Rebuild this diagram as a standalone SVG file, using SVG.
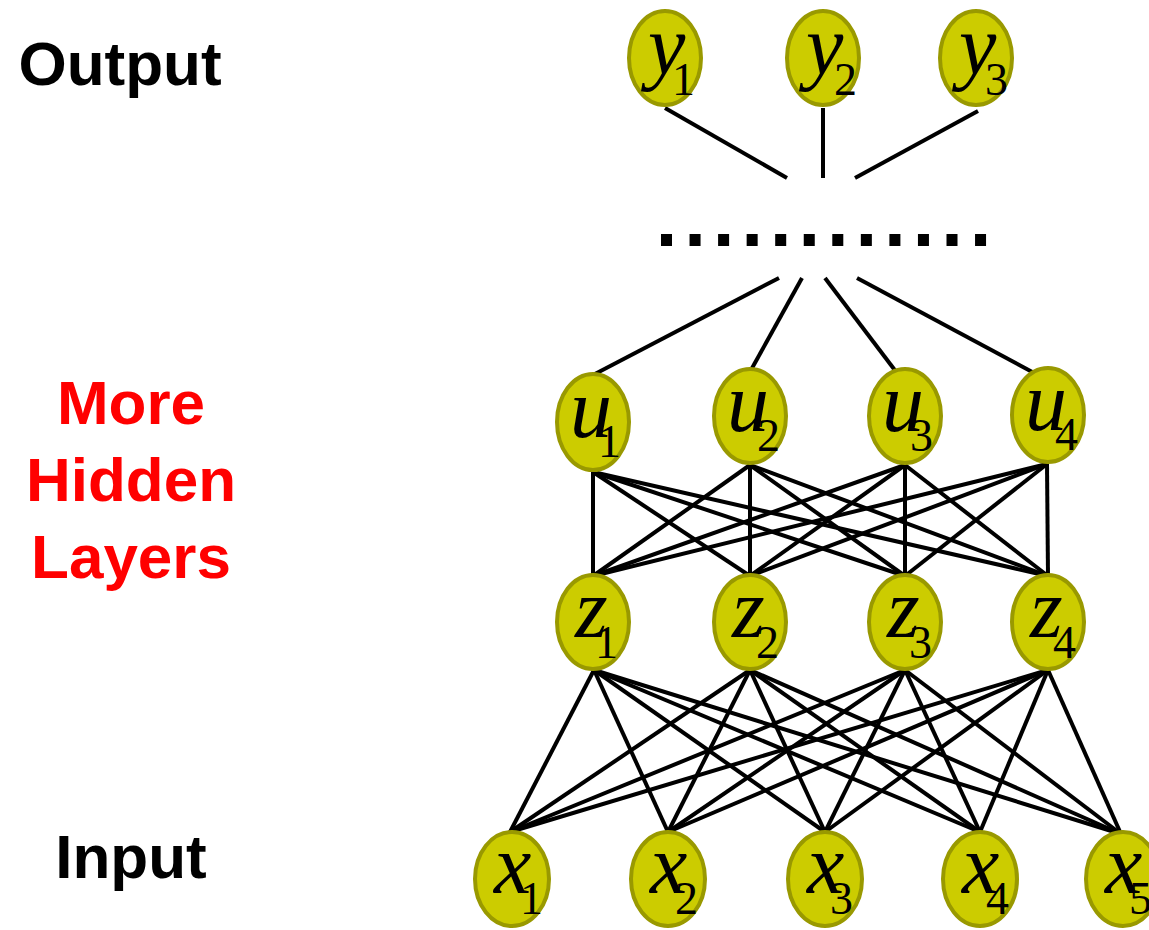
<svg xmlns="http://www.w3.org/2000/svg" width="1149" height="930" viewBox="0 0 1149 930">
  <style>
    .node ellipse { fill: #CCCC00; stroke: #999900; stroke-width: 4; }
    .v { font-family: "Liberation Serif", "Times New Roman", serif; font-style: italic; font-size: 84px; fill: #000; }
    .s { font-family: "Liberation Serif", "Times New Roman", serif; font-size: 46px; fill: #000; }
    .edges line { stroke: #000; stroke-width: 4; }
    .edges line.dots { stroke-width: 12; stroke-dasharray: 11 17.55; }
    .lbl { font-family: "Liberation Sans", Arial, sans-serif; font-weight: bold; font-size: 62px; text-anchor: middle; }
  </style>

  <!-- side labels -->
  <text class="lbl" x="120" y="85" fill="#000">Output</text>
  <text class="lbl" x="131" y="424" fill="#FF0000">More</text>
  <text class="lbl" x="131" y="501" fill="#FF0000">Hidden</text>
  <text class="lbl" x="131" y="578" fill="#FF0000">Layers</text>
  <text class="lbl" x="131" y="878" fill="#000">Input</text>

  <!-- connectors -->
  <g id="connectors" class="edges">
    <!-- output layer to ellipsis -->
    <line x1="665" y1="108" x2="787" y2="178"/>
    <line x1="823" y1="108" x2="823" y2="178"/>
    <line x1="978" y1="111" x2="855" y2="178"/>
    <!-- ellipsis row -->
    <line class="dots" x1="661" y1="240" x2="987" y2="240"/>
    <!-- ellipsis to u layer -->
    <line x1="779" y1="278" x2="593" y2="375"/>
    <line x1="802" y1="278" x2="751" y2="370"/>
    <line x1="825" y1="278" x2="897" y2="373"/>
    <line x1="857" y1="278" x2="1036" y2="374"/>
    <!-- u layer to z layer -->
    <line x1="593" y1="472" x2="593" y2="576"/>
    <line x1="593" y1="472" x2="750" y2="576"/>
    <line x1="593" y1="472" x2="905" y2="576"/>
    <line x1="593" y1="472" x2="1048" y2="576"/>
    <line x1="750" y1="465" x2="593" y2="576"/>
    <line x1="750" y1="465" x2="750" y2="576"/>
    <line x1="750" y1="465" x2="905" y2="576"/>
    <line x1="750" y1="465" x2="1048" y2="576"/>
    <line x1="905" y1="465" x2="593" y2="576"/>
    <line x1="905" y1="465" x2="750" y2="576"/>
    <line x1="905" y1="465" x2="905" y2="576"/>
    <line x1="905" y1="465" x2="1048" y2="576"/>
    <line x1="1047" y1="464" x2="593" y2="576"/>
    <line x1="1047" y1="464" x2="750" y2="576"/>
    <line x1="1047" y1="464" x2="905" y2="576"/>
    <line x1="1047" y1="464" x2="1048" y2="576"/>
    <!-- z layer to x layer -->
    <line x1="594" y1="670" x2="510" y2="832"/>
    <line x1="594" y1="670" x2="668" y2="832"/>
    <line x1="594" y1="670" x2="825" y2="832"/>
    <line x1="594" y1="670" x2="980" y2="832"/>
    <line x1="594" y1="670" x2="1121" y2="834"/>
    <line x1="750" y1="670" x2="510" y2="832"/>
    <line x1="750" y1="670" x2="668" y2="832"/>
    <line x1="750" y1="670" x2="825" y2="832"/>
    <line x1="750" y1="670" x2="980" y2="832"/>
    <line x1="750" y1="670" x2="1121" y2="834"/>
    <line x1="905" y1="670" x2="510" y2="832"/>
    <line x1="905" y1="670" x2="668" y2="832"/>
    <line x1="905" y1="670" x2="825" y2="832"/>
    <line x1="905" y1="670" x2="980" y2="832"/>
    <line x1="905" y1="670" x2="1121" y2="834"/>
    <line x1="1048" y1="670" x2="510" y2="832"/>
    <line x1="1048" y1="670" x2="668" y2="832"/>
    <line x1="1048" y1="670" x2="825" y2="832"/>
    <line x1="1048" y1="670" x2="980" y2="832"/>
    <line x1="1048" y1="670" x2="1121" y2="834"/>
  </g>

  <!-- output layer -->
  <g id="y1" class="node"><ellipse cx="665" cy="58" rx="36" ry="47"/><text><tspan class="v" x="648" y="74">y</tspan><tspan class="s" x="672" y="95">1</tspan></text></g>
  <g id="y2" class="node"><ellipse cx="823" cy="58" rx="36" ry="47"/><text><tspan class="v" x="806" y="74">y</tspan><tspan class="s" x="834" y="95">2</tspan></text></g>
  <g id="y3" class="node"><ellipse cx="976" cy="58" rx="36" ry="47"/><text><tspan class="v" x="959" y="74">y</tspan><tspan class="s" x="985" y="95">3</tspan></text></g>

  <!-- hidden layer u -->
  <g id="u1" class="node"><ellipse cx="593" cy="422" rx="36" ry="48"/><text><tspan class="v" x="570" y="437">u</tspan><tspan class="s" x="598" y="457">1</tspan></text></g>
  <g id="u2" class="node"><ellipse cx="750" cy="416" rx="36" ry="47"/><text><tspan class="v" x="727" y="431">u</tspan><tspan class="s" x="757" y="451">2</tspan></text></g>
  <g id="u3" class="node"><ellipse cx="905" cy="416" rx="36" ry="47"/><text><tspan class="v" x="882" y="431">u</tspan><tspan class="s" x="910" y="451">3</tspan></text></g>
  <g id="u4" class="node"><ellipse cx="1048" cy="415" rx="36" ry="47"/><text><tspan class="v" x="1025" y="430">u</tspan><tspan class="s" x="1055" y="450">4</tspan></text></g>

  <!-- hidden layer z -->
  <g id="z1" class="node"><ellipse cx="593" cy="622" rx="36" ry="47"/><text><tspan class="v" x="575" y="637">z</tspan><tspan class="s" x="595" y="658">1</tspan></text></g>
  <g id="z2" class="node"><ellipse cx="750" cy="622" rx="36" ry="47"/><text><tspan class="v" x="732" y="637">z</tspan><tspan class="s" x="756" y="658">2</tspan></text></g>
  <g id="z3" class="node"><ellipse cx="905" cy="622" rx="36" ry="47"/><text><tspan class="v" x="887" y="637">z</tspan><tspan class="s" x="909" y="658">3</tspan></text></g>
  <g id="z4" class="node"><ellipse cx="1048" cy="622" rx="36" ry="47"/><text><tspan class="v" x="1030" y="637">z</tspan><tspan class="s" x="1053" y="658">4</tspan></text></g>

  <!-- input layer -->
  <g id="x1" class="node"><ellipse cx="512" cy="879" rx="37" ry="47"/><text><tspan class="v" x="494" y="893">x</tspan><tspan class="s" x="520" y="914">1</tspan></text></g>
  <g id="x2" class="node"><ellipse cx="668" cy="879" rx="37" ry="47"/><text><tspan class="v" x="650" y="893">x</tspan><tspan class="s" x="675" y="914">2</tspan></text></g>
  <g id="x3" class="node"><ellipse cx="825" cy="879" rx="37" ry="47"/><text><tspan class="v" x="807" y="893">x</tspan><tspan class="s" x="830" y="914">3</tspan></text></g>
  <g id="x4" class="node"><ellipse cx="980" cy="879" rx="37" ry="47"/><text><tspan class="v" x="962" y="893">x</tspan><tspan class="s" x="986" y="914">4</tspan></text></g>
  <g id="x5" class="node"><ellipse cx="1123" cy="879" rx="37" ry="47"/><text><tspan class="v" x="1105" y="893">x</tspan><tspan class="s" x="1129" y="914">5</tspan></text></g>
</svg>
